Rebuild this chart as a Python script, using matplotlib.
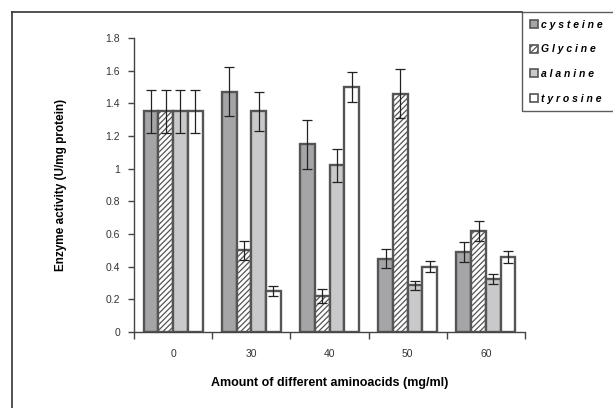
"""Enzyme activity vs amount of different aminoacids - grouped bars with error bars"""

import matplotlib
matplotlib.use("Agg")
import matplotlib.pyplot as plt
from matplotlib.lines import Line2D
from matplotlib.patches import Patch
import numpy as np

# data
groups = ["0", "30", "40", "50", "60"]
series = ["cysteine", "Glycine", "alanine", "tyrosine"]

cysteine = [1.35, 1.47, 1.15, 0.45, 0.49]
cysteine_err = [0.13, 0.15, 0.15, 0.06, 0.06]
glycine = [1.35, 0.50, 0.22, 1.46, 0.62]
glycine_err = [0.13, 0.06, 0.045, 0.15, 0.06]
alanine = [1.35, 1.35, 1.02, 0.285, 0.325]
alanine_err = [0.13, 0.12, 0.10, 0.025, 0.03]
tyrosine = [1.35, 0.25, 1.50, 0.40, 0.46]
tyrosine_err = [0.13, 0.03, 0.09, 0.035, 0.035]

y_ticks = [0, 0.2, 0.4, 0.6, 0.8, 1, 1.2, 1.4, 1.6, 1.8]

W, H = 613, 408
plt.rcParams["font.family"] = ["Liberation Sans", "DejaVu Sans"]
plt.rcParams["hatch.color"] = "#8c8c8c"
plt.rcParams["hatch.linewidth"] = 0.9

fig = plt.figure(figsize=(W / 100, H / 100), dpi=100)
fig.patch.set_facecolor("white")

# axes box in pixels: x 134..525, y 38..332
ax = fig.add_axes([134 / W, (H - 332) / H, 391 / W, 294 / H])

edge = "#555555"
face = ["#a5a5a7", "white", "#c9c9cb", "white"]
hatch = [None, "//////", None, None]
vals = [cysteine, glycine, alanine, tyrosine]
errs = [cysteine_err, glycine_err, alanine_err, tyrosine_err]

x = np.arange(len(groups))
bw = 0.188
for i in range(4):
    pos = x - 1.5 * bw + i * bw
    ax.bar(pos, vals[i], bw, color=face[i], edgecolor=edge, linewidth=1.7,
           hatch=hatch[i], zorder=2)
    ax.errorbar(pos, vals[i], yerr=errs[i], fmt="none", ecolor="#222222",
                elinewidth=0.9, capsize=3.5, capthick=0.9, zorder=3)

ax.set_xlim(-0.5, len(groups) - 0.5)
ax.set_ylim(0, 1.8)
ax.set_yticks(y_ticks)
ax.set_yticklabels([f"{t:g}" for t in y_ticks])
ax.set_xticks(x)
ax.set_xticklabels(groups)
ax.set_xticks(np.arange(len(groups) + 1) - 0.5, minor=True)

for s in ["top", "right"]:
    ax.spines[s].set_visible(False)
for s in ["left", "bottom"]:
    ax.spines[s].set_color("#444444")
    ax.spines[s].set_linewidth(1.0)

ax.tick_params(axis="y", length=4, width=1, color="#444444", labelsize=7.5,
               labelcolor="#333333", pad=6)
ax.tick_params(axis="x", which="major", length=0, labelsize=7.5,
               labelcolor="#333333", pad=12)
ax.tick_params(axis="x", which="minor", length=5, width=1, color="#444444")

ax.set_ylabel("Enzyme activity (U/mg protein)", fontsize=8.5, fontweight="bold")
ax.yaxis.set_label_coords(-0.172, 0.5)
ax.set_xlabel("Amount of different aminoacids (mg/ml)", fontsize=9,
              fontweight="bold", labelpad=13)

# outer frame of the chart area (left and top sides are visible)
fig.add_artist(Line2D([12 / W, 12 / W], [0, 1 - 12 / H], transform=fig.transFigure,
                      color="#333333", linewidth=1.2))
fig.add_artist(Line2D([12 / W, 522 / W], [1 - 12 / H, 1 - 12 / H],
                      transform=fig.transFigure, color="#333333", linewidth=1.2))

# legend with letter-spaced italic labels
handles = [Patch(facecolor=face[i], edgecolor=edge, hatch=hatch[i], linewidth=1.2)
           for i in range(4)]
labels = [" ".join(s) for s in series]
leg = fig.legend(handles, labels, loc="upper left",
                 bbox_to_anchor=(522 / W, 1 - 107 / H, 100 / W, 95 / H),
                 mode="expand", frameon=True, fancybox=False, borderaxespad=0,
                 handlelength=0.8, handleheight=0.8, handletextpad=0.3,
                 labelspacing=1.4, borderpad=0.75,
                 prop={"size": 7.5, "style": "italic", "weight": "bold"})
leg.get_frame().set_edgecolor("#333333")
leg.get_frame().set_linewidth(1.0)

fig.savefig("out.png", dpi=100)
